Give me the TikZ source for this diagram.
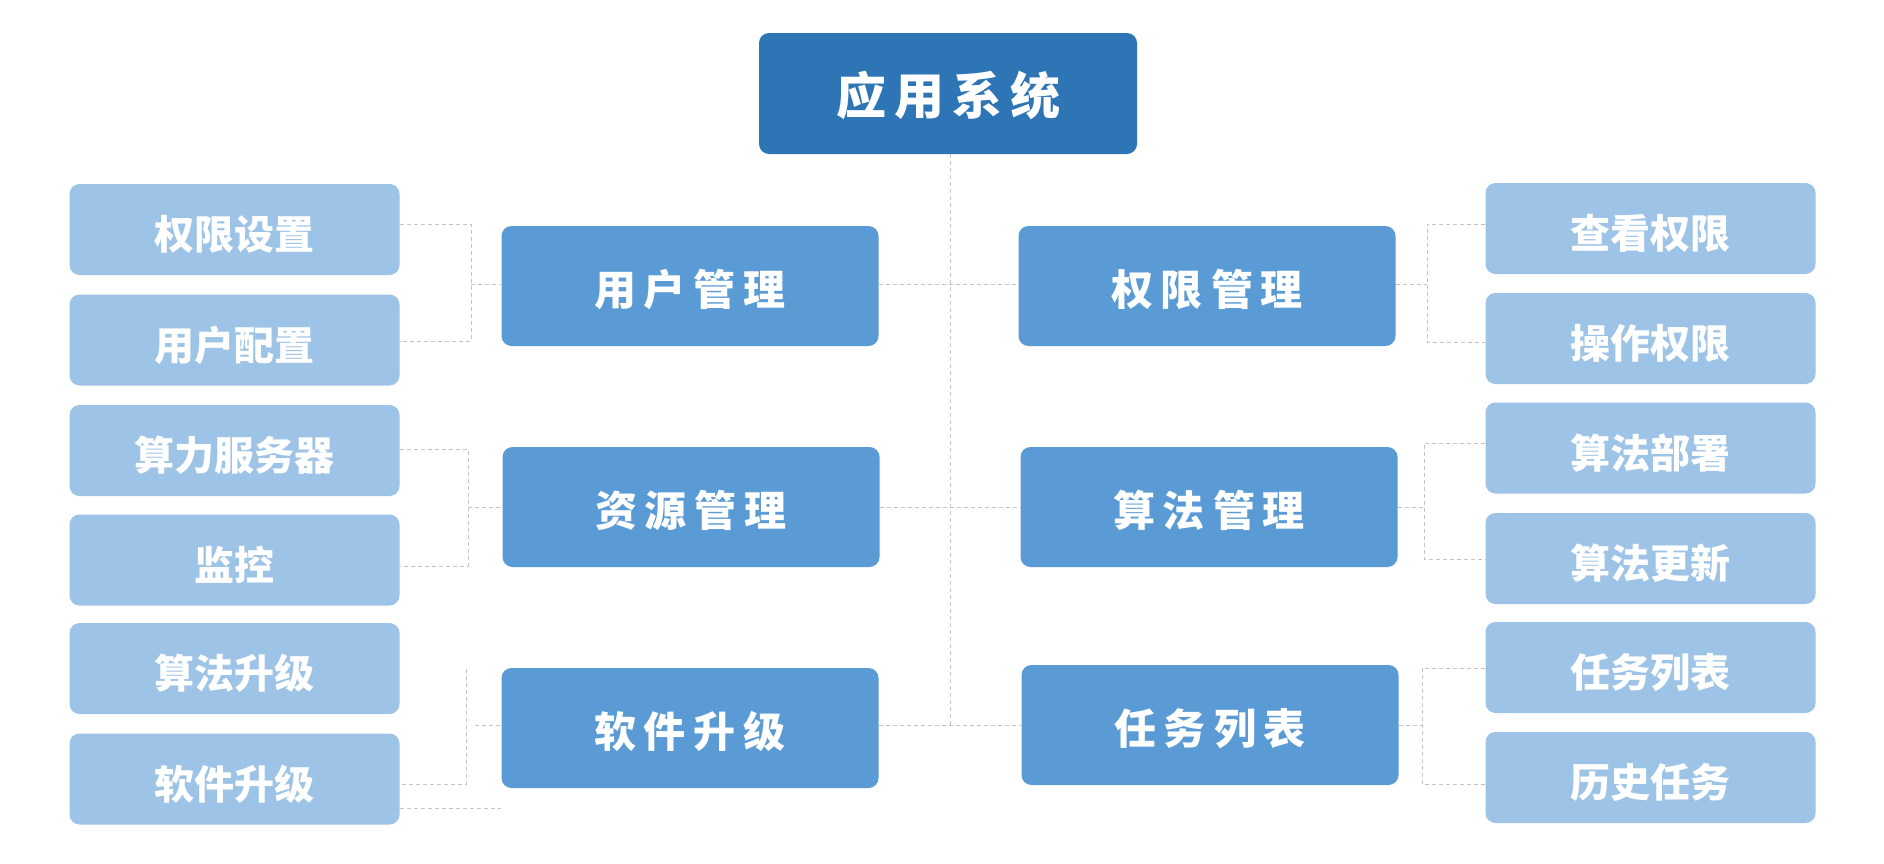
\documentclass[tikz,border=0pt]{standalone}
\usepackage{fontspec}
\newfontfamily\cjkleaf{Noto Sans CJK SC}
\newfontfamily\cjkmid{Noto Sans CJK SC}[LetterSpace=19]
\newfontfamily\cjkroot{Noto Sans CJK SC}[LetterSpace=16]
\definecolor{rootblue}{HTML}{2E75B6}
\definecolor{midblue}{HTML}{5B9BD5}
\definecolor{leafblue}{HTML}{9DC3E6}
\definecolor{linegray}{HTML}{C4C4C4}
\tikzset{
  basebox/.style={rectangle, rounded corners=10pt, text=white, inner sep=0pt, draw=none},
  rootbox/.style={basebox, fill=rootblue, minimum width=378pt, minimum height=121pt,
    font=\cjkroot\bfseries\fontsize{50}{50}\selectfont, text height=45pt, text depth=4pt},
  midbox/.style={basebox, fill=midblue, minimum width=377pt, minimum height=120pt,
    font=\cjkmid\bfseries\fontsize{42}{42}\selectfont, text height=41pt, text depth=3pt},
  leafbox/.style={basebox, fill=leafblue, minimum width=330pt, minimum height=91pt,
    font=\cjkleaf\bfseries\fontsize{40}{40}\selectfont, text height=43pt, text depth=3pt},
  dl/.style={draw=linegray, line width=1pt, dash pattern=on 4pt off 3pt}
}
\begin{document}
\begin{tikzpicture}[x=1pt,y=-1pt]
\fill[white] (0,0) rectangle (1884,863);
\useasboundingbox (0,0) rectangle (1884,863);

% root
\node[rootbox] (root) at (948,93.5) {应用系统};

% middle boxes
\node[midbox] (um) at (690,286) {用户管理};
\node[midbox] (rm) at (691,507) {资源管理};
\node[midbox] (sm) at (690,728) {软件升级};
\node[midbox] (pm) at (1207,286) {权限管理};
\node[midbox] (am) at (1209,507) {算法管理};
\node[midbox] (tm) at (1210,725) {任务列表};

% left leaves
\node[leafbox] (l1) at (234.5,229.5) {权限设置};
\node[leafbox] (l2) at (234.5,340) {用户配置};
\node[leafbox] (l3) at (234.5,450.5) {算力服务器};
\node[leafbox] (l4) at (234.5,560) {监控};
\node[leafbox] (l5) at (234.5,668.5) {算法升级};
\node[leafbox] (l6) at (234.5,779) {软件升级};

% right leaves
\node[leafbox] (r1) at (1650.5,228.5) {查看权限};
\node[leafbox] (r2) at (1650.5,338.5) {操作权限};
\node[leafbox] (r3) at (1650.5,448) {算法部署};
\node[leafbox] (r4) at (1650.5,558.5) {算法更新};
\node[leafbox] (r5) at (1650.5,667.5) {任务列表};
\node[leafbox] (r6) at (1650.5,777.5) {历史任务};

% bracket coordinates
\coordinate (bu) at (471,284);
\coordinate (br) at (468,507);
\coordinate (bs) at (466,669);
\coordinate (bst) at (475,725);
\coordinate (bp) at (1427,284);
\coordinate (ba) at (1424,507);
\coordinate (bt) at (1422,725);
\coordinate (trunk) at (950,727);

% trunk and row lines
\draw[dl] (root.south -| trunk) -- (trunk);
\draw[dl] ([yshift=2pt]um.east) -- ([yshift=2pt]pm.west);
\draw[dl] (rm.east) -- (am.west);
\draw[dl] ([yshift=3pt]sm.east) -- (tm.west);

% left brackets
\draw[dl] ([yshift=5.5pt]l1.east) -| (bu) |- ([yshift=-1pt]l2.east);
\draw[dl] (bu) -- (bu -| um.west);
\draw[dl] ([yshift=1.5pt]l3.east) -| (br) |- ([yshift=-6pt]l4.east);
\draw[dl] (br) -- (rm.west);
\draw[dl] (bs) |- ([yshift=-5pt]l6.east);
\draw[dl] (bst) -- (bst -| sm.west);
\draw[dl] ([yshift=-29pt]l6.east) -- ([yshift=-29pt]l6.east -| sm.west);

% right brackets
\draw[dl] ([yshift=4.5pt]r1.west) -| (bp) |- ([yshift=-3.5pt]r2.west);
\draw[dl] (bp -| pm.east) -- (bp);
\draw[dl] ([yshift=5pt]r3.west) -| (ba) |- ([yshift=-0.5pt]r4.west);
\draw[dl] (am.east) -- (ba);
\draw[dl] ([yshift=-0.5pt]r5.west) -| (bt) |- ([yshift=-6.5pt]r6.west);
\draw[dl] (tm.east) -- (bt);
\end{tikzpicture}
\end{document}
